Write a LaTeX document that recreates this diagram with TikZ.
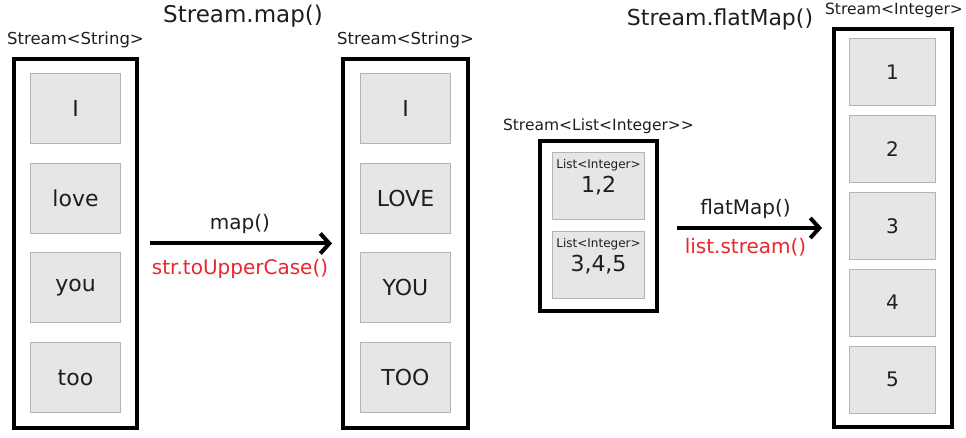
\documentclass[tikz,border=0pt]{standalone}
\usepackage{fontspec}
\setmainfont{DejaVu Sans}[Ligatures=TeXOff]
\usetikzlibrary{positioning,arrows.meta}

\definecolor{itemfill}{HTML}{E6E6E6}
\definecolor{itemline}{HTML}{B4B4B4}
\definecolor{ink}{HTML}{1E1E1E}
\definecolor{opred}{HTML}{E8262E}
\newcommand{\fsz}[1]{\fontsize{#1}{#1}\selectfont}

\tikzset{
  stream/.style={draw=black, line width=4pt, inner sep=0pt},
  item/.style={draw=itemline, fill=itemfill, line width=1pt, minimum width=90pt,
    minimum height=70pt, inner sep=0pt, text=ink, font=\fsz{22}},
  num/.style={item, minimum width=86pt, minimum height=67pt, font=\fsz{20}},
  sub/.style={item, minimum width=92pt, minimum height=67pt,
    label={[anchor=north, yshift=-7pt, inner sep=0pt, text=ink, font=\fsz{12}]north:List<Integer>}},
  title/.style={anchor=base, inner sep=0pt, text=ink},
  flow/.style={line width=4pt, -{Straight Barb[length=9pt, width=20pt, line width=4pt]}},
  oplabel/.style={midway, anchor=base, inner sep=0pt, font=\fsz{20}},
}

\begin{document}
\begin{tikzpicture}[x=1pt, y=-1pt]
        \useasboundingbox (0,0) rectangle (966,438);
        \node[title, font=\fsz{23}](mapT) at (243,23){Stream.map()};
        \node[title, font=\fsz{22}](flatT) at (720,26){Stream.flatMap()};
        \node[title, font=\fsz{16.5}](srcT) at (75.5,45){Stream<String>};
        \node[title, font=\fsz{16.5}](upT) at (405.5,45){Stream<String>};
        \node[title, font=\fsz{15.5}](listT) at (598.5,131){Stream<List<Integer>>};
        \node[title, font=\fsz{15.5}](intT) at (894,15){Stream<Integer>};

        \node[stream, minimum width=123pt, minimum height=369pt](src) at (75.5,243.5){};
        \node[stream, minimum width=125pt, minimum height=369pt](up) at (405.5,243.5){};
        \node[stream, minimum width=117pt, minimum height=170pt](lists) at (598.5,226){};
        \node[stream, minimum width=118pt, minimum height=398pt](ints) at (893,228){};

        \begin{scope}[node distance=18.7pt]
            \node[item](s1) at (75.5,108.5){I};
            \node[item, below=of s1](s2){love};
            \node[item, below=of s2](s3){you};
            \node[item, below=of s3](s4){too};
            \node[item](u1) at (405.5,108.5){I};
            \node[item, below=of u1](u2){LOVE};
            \node[item, below=of u2](u3){YOU};
            \node[item, below=of u3](u4){TOO};
        \end{scope}
        \begin{scope}[node distance=11pt]
            \node[sub](l1) at (598.5,186){\fsz{22}1,2};
            \node[sub, below=of l1](l2){\fsz{22}3,4,5};
        \end{scope}
        \begin{scope}[node distance=8.9pt]
            \node[num](n1) at (892.5,72){1};
            \node[num, below=of n1](n2){2};
            \node[num, below=of n2](n3){3};
            \node[num, below=of n3](n4){4};
            \node[num, below=of n4](n5){5};
        \end{scope}

        \draw[flow, shorten <=11pt, shorten >=9pt]
        (src.east) -- (up.west)
        node[oplabel, yshift=14pt, text=ink]{map()}
        node[oplabel, yshift=-31pt, text=opred]{str.toUpperCase()};
        \draw[flow, shorten <=18pt, shorten >=10pt]
        (lists.east |- ints.west) -- (ints.west)
        node[oplabel, yshift=13pt, text=ink]{flatMap()}
        node[oplabel, yshift=-26pt, text=opred]{list.stream()};
    \end{tikzpicture}
\end{document}
